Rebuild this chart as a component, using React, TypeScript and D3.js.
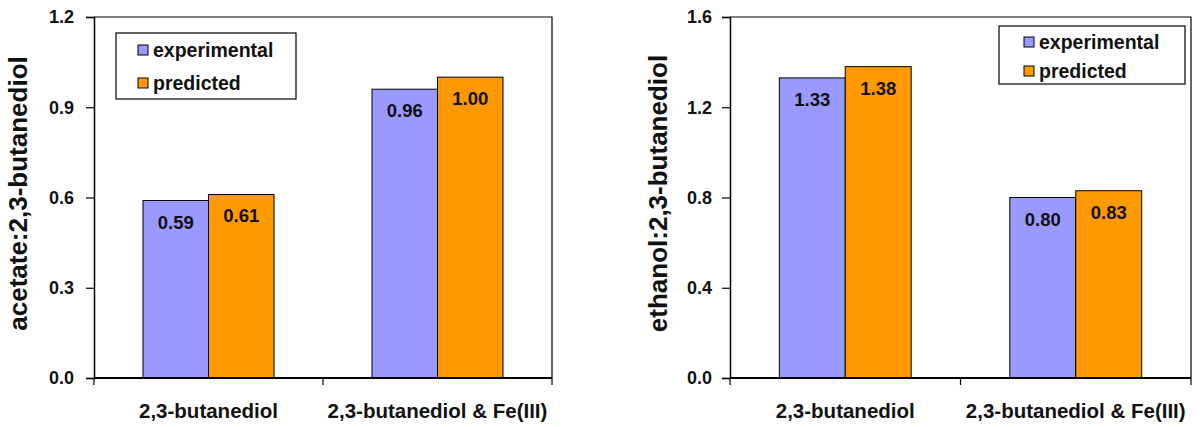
import React, { useEffect, useRef } from 'react';
import * as d3 from 'd3';

const categories = ['2,3-butanediol', '2,3-butanediol & Fe(III)'];
const seriesNames = ['experimental', 'predicted'];
const seriesColors = ['#9999FF', '#FF9900'];

const acetateExperimental = [0.59, 0.96];
const acetatePredicted = [0.61, 1.0];
const acetateTicks = [0, 0.3, 0.6, 0.9, 1.2];

const ethanolExperimental = [1.33, 0.8];
const ethanolPredicted = [1.38, 0.83];
const ethanolTicks = [0, 0.4, 0.8, 1.2, 1.6];

const FONT = 'Arial, "Liberation Sans", sans-serif';

type Panel = {
  title: string;
  series: number[][];
  ticks: number[];
  left: number;
  right: number;
  titleX: number;
  tickPad: number;
  legend: { x: number; y: number; w: number; h: number; rowY: number[]; sqX: number };
};

const panels: Panel[] = [
  {
    title: 'acetate:2,3-butanediol',
    series: [acetateExperimental, acetatePredicted],
    ticks: acetateTicks,
    left: 94,
    right: 552,
    titleX: 27,
    tickPad: 12,
    legend: { x: 116, y: 33, w: 180, h: 66, rowY: [50, 83], sqX: 138 },
  },
  {
    title: 'ethanol:2,3-butanediol',
    series: [ethanolExperimental, ethanolPredicted],
    ticks: ethanolTicks,
    left: 730,
    right: 1191,
    titleX: 667,
    tickPad: 10,
    legend: { x: 999, y: 26, w: 186, h: 58, rowY: [42, 71], sqX: 1024 },
  },
];

const TOP = 17;
const BOTTOM = 378;

function drawPanel(svg: d3.Selection<SVGSVGElement, unknown, null, undefined>, p: Panel) {
  const g = svg.append('g');
  const x = d3.scaleBand<string>().domain(categories).range([p.left, p.right]).padding(0);
  const y = d3
    .scaleLinear()
    .domain([0, p.ticks[p.ticks.length - 1]])
    .range([BOTTOM, TOP]);
  const bw = x.bandwidth() * 0.286;

  // frame: top and right
  g.append('path')
    .attr('d', `M${p.left},${TOP}H${p.right}V${BOTTOM}`)
    .attr('fill', 'none')
    .attr('stroke', '#000')
    .attr('stroke-width', 1.2);

  // bars
  p.series.forEach((vals, si) => {
    g.selectAll(null)
      .data(vals)
      .enter()
      .append('rect')
      .attr('x', (_, i) => x(categories[i])! + x.bandwidth() / 2 - bw + si * bw)
      .attr('y', (d) => y(d))
      .attr('width', bw)
      .attr('height', (d) => BOTTOM - y(d))
      .attr('fill', seriesColors[si])
      .attr('stroke', '#000')
      .attr('stroke-width', 1);

    g.selectAll(null)
      .data(vals)
      .enter()
      .append('text')
      .attr('x', (_, i) => x(categories[i])! + x.bandwidth() / 2 - bw / 2 + si * bw)
      .attr('y', (d) => y(d) + 28)
      .attr('text-anchor', 'middle')
      .attr('font-family', FONT)
      .attr('font-weight', 'bold')
      .attr('font-size', 18.5)
      .attr('fill', '#111')
      .text((d) => d3.format('.2f')(d));
  });

  // y axis
  const yAxis = d3
    .axisLeft(y)
    .tickValues(p.ticks)
    .tickSize(8)
    .tickPadding(p.tickPad)
    .tickFormat((d) => d3.format('.1f')(d as number));
  const ya = g.append('g').attr('transform', `translate(${p.left},0)`).call(yAxis);
  ya.select('.domain').attr('stroke', '#000').attr('stroke-width', 1.5);
  ya.selectAll('.tick line').attr('stroke', '#000').attr('stroke-width', 1.2);
  ya.selectAll('.tick text')
    .attr('font-family', FONT)
    .attr('font-weight', 'bold')
    .attr('font-size', 18)
    .attr('fill', '#111');

  // x axis line with ticks at band edges
  g.append('line')
    .attr('x1', p.left)
    .attr('x2', p.right)
    .attr('y1', BOTTOM)
    .attr('y2', BOTTOM)
    .attr('stroke', '#000')
    .attr('stroke-width', 2);
  const edges = [p.left, ...categories.map((c) => x(c)! + x.bandwidth())];
  g.selectAll(null)
    .data(edges)
    .enter()
    .append('line')
    .attr('x1', (d) => d)
    .attr('x2', (d) => d)
    .attr('y1', BOTTOM)
    .attr('y2', BOTTOM + 7)
    .attr('stroke', '#000')
    .attr('stroke-width', 1.2);

  g.selectAll(null)
    .data(categories)
    .enter()
    .append('text')
    .attr('x', (d) => x(d)! + x.bandwidth() / 2)
    .attr('y', 418)
    .attr('text-anchor', 'middle')
    .attr('font-family', FONT)
    .attr('font-weight', 'bold')
    .attr('font-size', 20.5)
    .attr('fill', '#111')
    .text((d) => d);

  // y title
  g.append('text')
    .attr('transform', `translate(${p.titleX},${(TOP + BOTTOM) / 2 - 4}) rotate(-90)`)
    .attr('text-anchor', 'middle')
    .attr('font-family', FONT)
    .attr('font-weight', 'bold')
    .attr('font-size', 26)
    .attr('fill', '#111')
    .text(p.title);

  // legend
  const L = p.legend;
  const lg = g.append('g');
  lg.append('rect')
    .attr('x', L.x)
    .attr('y', L.y)
    .attr('width', L.w)
    .attr('height', L.h)
    .attr('fill', '#fff')
    .attr('stroke', '#000')
    .attr('stroke-width', 1.2);
  seriesNames.forEach((name, i) => {
    lg.append('rect')
      .attr('x', L.sqX)
      .attr('y', L.rowY[i] - 5)
      .attr('width', 10)
      .attr('height', 10)
      .attr('fill', seriesColors[i])
      .attr('stroke', '#000')
      .attr('stroke-width', 1);
    lg.append('text')
      .attr('x', L.sqX + 15)
      .attr('y', L.rowY[i] + 7)
      .attr('font-family', FONT)
      .attr('font-weight', 'bold')
      .attr('font-size', 19.5)
      .attr('fill', '#111')
      .text(name);
  });
}

export default function App() {
  const ref = useRef<SVGSVGElement>(null);

  useEffect(() => {
    const svg = d3.select(ref.current!);
    svg.selectAll('*').remove();
    panels.forEach((p) => drawPanel(svg, p));
  }, []);

  return (
    <svg
      ref={ref}
      width={1200}
      height={427}
      style={{ position: 'absolute', left: 0, top: 0, background: '#fff' }}
    />
  );
}
